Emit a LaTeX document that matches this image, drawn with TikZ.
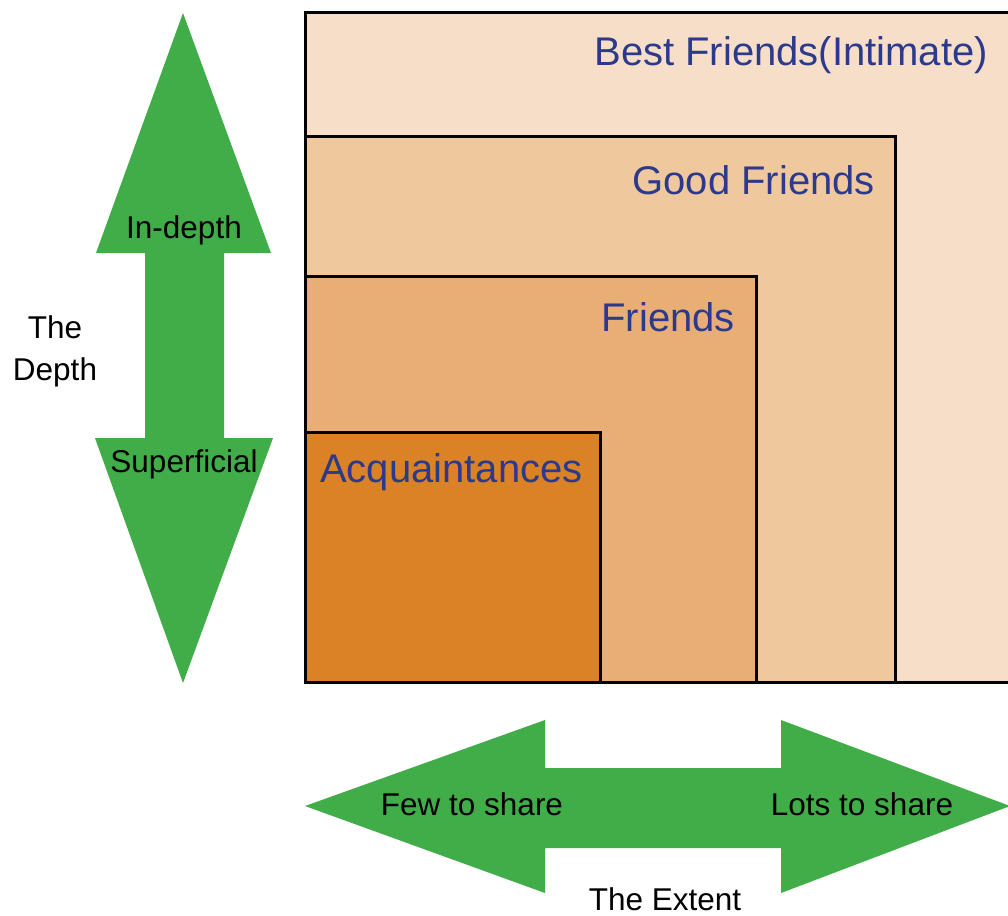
\documentclass[tikz,border=0pt]{standalone}
\usepackage{fontspec}
\setmainfont{Liberation Sans}
\definecolor{arrowgreen}{HTML}{41AD49}
\definecolor{bestfill}{HTML}{F6DEC8}
\definecolor{goodfill}{HTML}{F0C89E}
\definecolor{friendfill}{HTML}{E9AE76}
\definecolor{acqfill}{HTML}{DC8226}
\definecolor{labelblue}{HTML}{2B3A8C}
\begin{document}
\begin{tikzpicture}[x=1pt,y=-1pt,
  boxline/.style={draw=black,line width=3pt},
  bluelabel/.style={inner sep=0pt,text=labelblue,font=\fontsize{40}{48}\selectfont},
  blacklabel/.style={inner sep=0pt,text=black,font=\fontsize{31.5}{38}\selectfont},
  bigarrow/.style={fill=arrowgreen,draw=none}]
\useasboundingbox (0,0) rectangle (1008,915);
\begin{scope}
\clip (0,0) rectangle (1008,915);
% nested boxes
\path[boxline,fill=bestfill] (305,13) rectangle (1012,682);
\path[boxline,fill=goodfill] (305,136) rectangle (895,682);
\path[boxline,fill=friendfill] (305,276) rectangle (756,682);
\path[boxline,fill=acqfill] (305,432) rectangle (600,682);
% vertical arrow
\path[bigarrow] (183,13) -- (271,253) -- (224,253) -- (224,438) -- (273,438) -- (183,683)
  -- (95,438) -- (145,438) -- (145,253) -- (96,253) -- cycle;
% horizontal arrow
\path[bigarrow] (305,806) -- (545,720) -- (545,768) -- (781,768) -- (781,720) -- (1010,806)
  -- (781,893) -- (781,848) -- (545,848) -- (545,893) -- cycle;
\end{scope}
% box labels
\node[bluelabel,anchor=base east] (best) at (988,66) {Best Friends(Intimate)};
\node[bluelabel,anchor=base east] (good) at (875,194) {Good Friends};
\node[bluelabel,anchor=base east] (friends) at (735,331) {Friends};
\node[bluelabel,anchor=base west] (acq) at (320,482) {Acquaintances};
% arrow labels
\node[blacklabel,anchor=base] (indepth) at (184,238) {In-depth};
\node[blacklabel,anchor=base] (superficial) at (184,472) {Superficial};
\node[blacklabel,anchor=base] (the) at (55,338) {The};
\node[blacklabel,anchor=base] (depth) at (55,380) {Depth};
\node[blacklabel,anchor=base] (few) at (472,815) {Few to share};
\node[blacklabel,anchor=base] (lots) at (862,815) {Lots to share};
\node[blacklabel,anchor=base] (extent) at (665,910) {The Extent};
\end{tikzpicture}
\end{document}
